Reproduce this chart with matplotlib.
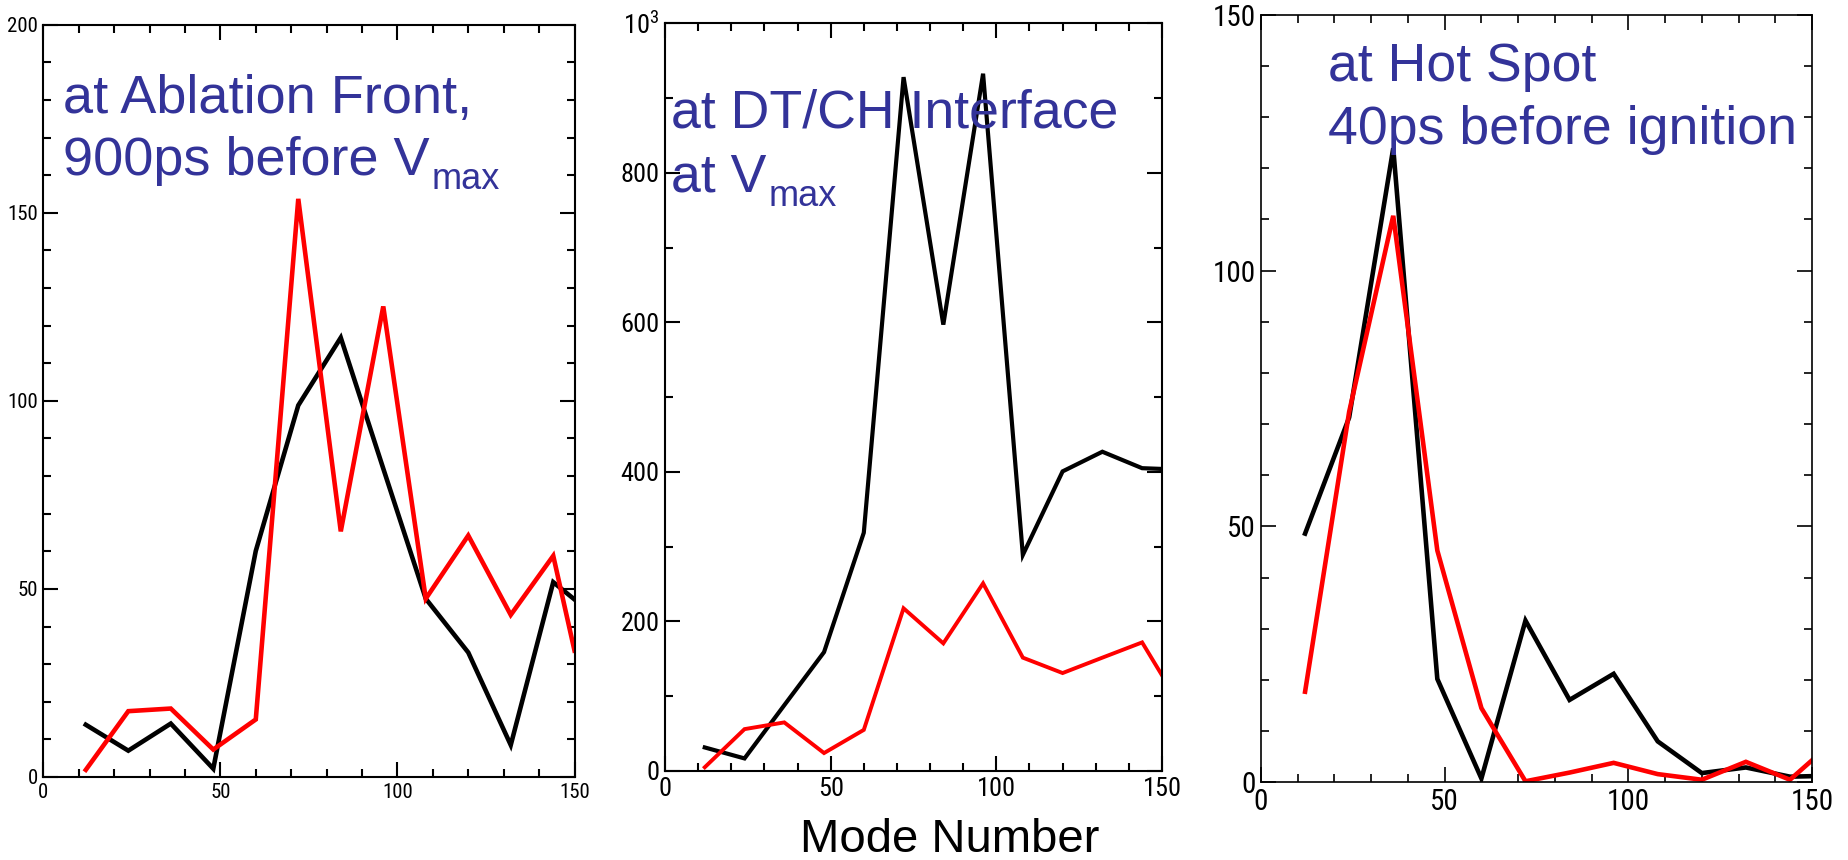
import matplotlib
matplotlib.use("Agg")
import matplotlib.pyplot as plt
from matplotlib import font_manager
from matplotlib.ticker import MultipleLocator, FixedLocator, FixedFormatter

# ---- data ----
modes = [12, 24, 36, 48, 60, 72, 84, 96, 108, 120, 132, 144, 150]

abl_black = [13.9, 7.0, 14.2, 2.2, 60.1, 98.8, 116.8, 82.0, 47.4, 33.1, 8.5, 51.8, 47.2]
abl_red = [1.9, 17.5, 18.2, 7.3, 15.3, 153.7, 65.3, 125.1, 47.4, 64.2, 43.1, 58.8, 33.6]

dtch_black = [31.5, 16.8, 88.0, 159.0, 318.7, 928.0, 597.0, 932.6, 289.0, 400.7, 427.0, 405.0, 404.0]
dtch_red = [5.0, 56.0, 65.0, 24.0, 55.0, 217.6, 170.7, 251.0, 151.6, 131.0, 151.6, 172.0, 128.0]

hot_black = [48.6, 71.3, 123.9, 20.2, 0.75, 31.6, 16.1, 21.2, 8.0, 1.8, 2.9, 1.1, 1.2]
hot_red = [17.7, 72.4, 110.7, 45.3, 14.5, 0.2, 1.9, 3.8, 1.6, 0.5, 4.0, 0.5, 4.3]

titles = [("at Ablation Front,", "900ps before V", "max"),
          ("at DT/CH Interface", "at V", "max"),
          ("at Hot Spot", "40ps before ignition", None)]
xlabel = "Mode Number"

W, H = 1848, 860
TITLE_FONT = ["Liberation Sans", "DejaVu Sans"]
TCOL = "#333399"

# pick a narrow font for tick labels
names = {f.name for f in font_manager.fontManager.ttflist}
NARROW_FAMILY = None
for cand in ["Liberation Sans Narrow", "Roboto Condensed", "Open Sans Condensed",
             "DejaVu Sans Condensed"]:
    if cand in names:
        NARROW_FAMILY = cand
        break
if NARROW_FAMILY is None:
    NARROW_FAMILY = "DejaVu Sans"
    STRETCH = "condensed"
else:
    STRETCH = "normal"

plt.rcParams["mathtext.fontset"] = "custom"
plt.rcParams["mathtext.rm"] = NARROW_FAMILY

fig = plt.figure(figsize=(W / 100, H / 100), dpi=100)


def add_ax(l, r, t, b):
    return fig.add_axes([l / W, 1 - b / H, (r - l) / W, (b - t) / H])


def set_label_font(ax):
    for lab in ax.get_xticklabels() + ax.get_yticklabels():
        lab.set_family(NARROW_FAMILY)
        lab.set_stretch(STRETCH)


def style(ax, ymax, ymajor, yminor, fs, lw_sp, maj_len, min_len):
    ax.set_xlim(0, 150)
    ax.set_ylim(0, ymax)
    ax.xaxis.set_major_locator(MultipleLocator(50))
    ax.xaxis.set_minor_locator(MultipleLocator(10))
    ax.yaxis.set_major_locator(MultipleLocator(ymajor))
    ax.yaxis.set_minor_locator(MultipleLocator(yminor))
    for s in ax.spines.values():
        s.set_linewidth(lw_sp)
    ax.tick_params(which="both", direction="in", top=True, right=True,
                   width=lw_sp, labelsize=fs, pad=4)
    ax.tick_params(which="major", length=maj_len)
    ax.tick_params(which="minor", length=min_len)
    set_label_font(ax)


# Panel 1
ax1 = add_ax(43.3, 574.5, 24.7, 777)
ax1.plot(modes, abl_black, color="black", lw=3.3, solid_joinstyle="miter")
ax1.plot(modes, abl_red, color="#ff0000", lw=3.3, solid_joinstyle="miter")
style(ax1, 200, 50, 10, 15, 1.5, 11, 6)

# Panel 2
ax2 = add_ax(665, 1162, 23.3, 771)
ax2.plot(modes, dtch_black, color="black", lw=3.0, solid_joinstyle="miter")
ax2.plot(modes, dtch_red, color="#ff0000", lw=2.8, solid_joinstyle="miter")
style(ax2, 1000, 200, 100, 19, 1.5, 11, 6)
yt = [0, 200, 400, 600, 800, 1000]
ax2.yaxis.set_major_locator(FixedLocator(yt))
ax2.yaxis.set_major_formatter(FixedFormatter(["0", "200", "400", "600", "800", r"$\mathregular{10^3}$"]))
set_label_font(ax2)

# Panel 3
ax3 = add_ax(1261, 1812, 14.7, 782.3)
ax3.plot(modes, hot_black, color="black", lw=3.3, solid_joinstyle="miter")
ax3.plot(modes, hot_red, color="#ff0000", lw=3.3, solid_joinstyle="miter")
style(ax3, 150, 50, 10, 21, 1.2, 11, 6)

# titles (positions in figure pixels: left x, baseline y of line 1, line spacing)
tpos = [(63, 112.7, 62.5, 39), (671, 128, 63.5, 38.6), (1328, 80.7, 63.5, 38.6)]
for (t1, t2, sub), (tx, ty, dy, fs) in zip(titles, tpos):
    fig.text(tx / W, 1 - ty / H, t1, color=TCOL, fontsize=fs, family=TITLE_FONT,
             ha="left", va="baseline")
    txt = fig.text(tx / W, 1 - (ty + dy) / H, t2, color=TCOL, fontsize=fs,
                   family=TITLE_FONT, ha="left", va="baseline")
    if sub:
        fig.canvas.draw()
        bb = txt.get_window_extent()
        fig.text(bb.x1 / W + 2 / W, 1 - (ty + dy + 14) / H, sub, color=TCOL,
                 fontsize=26, family=TITLE_FONT, ha="left", va="baseline")

fig.text(950 / W, 1 - 852 / H, xlabel, fontsize=34, family=TITLE_FONT,
         ha="center", va="baseline", color="black")

fig.savefig("out.png", dpi=100)
